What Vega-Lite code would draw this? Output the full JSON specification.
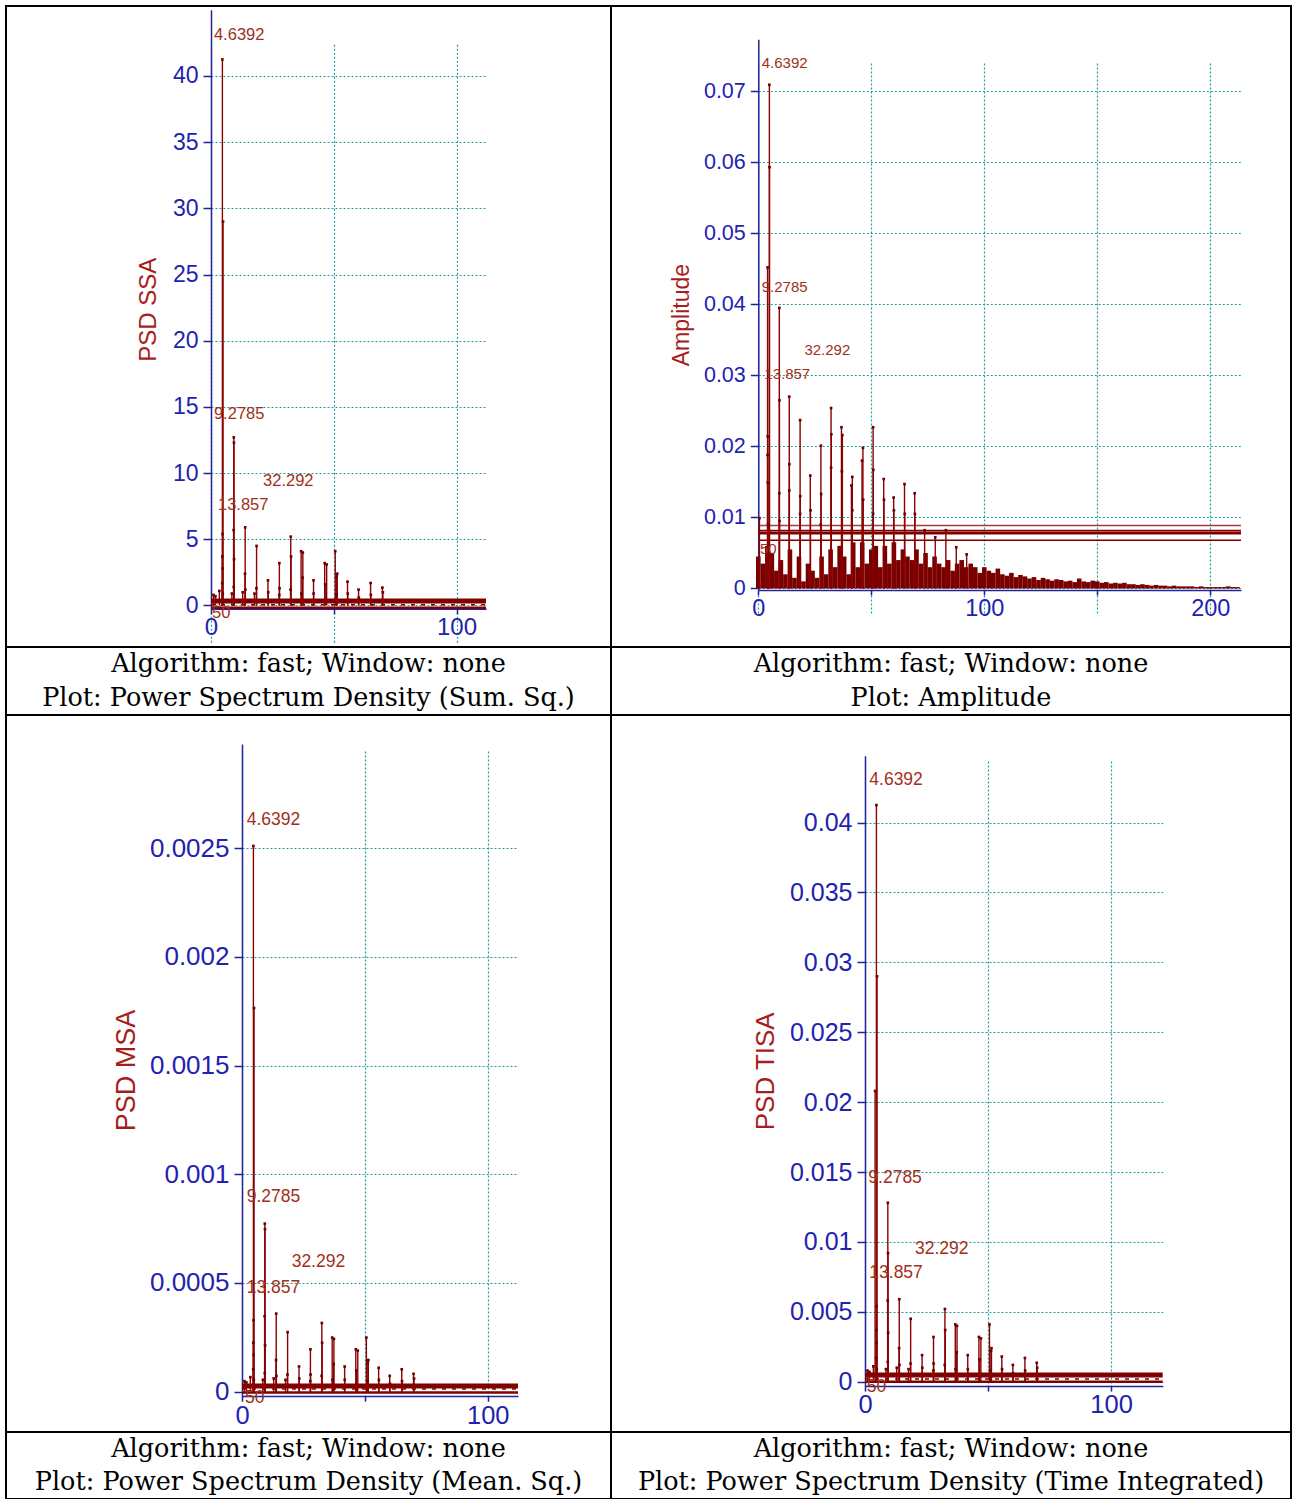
{
"$schema": "https://vega.github.io/schema/vega-lite/v6.json",
"background": "white",
"padding": {"left": 5, "top": 5, "right": 0, "bottom": 0},
"spacing": 0,
"bounds": "flush",
"align": "each",
"columns": 2,
"config": {
  "view": {"stroke": "black", "strokeWidth": 2},
  "axis": {"labelFont": "Liberation Sans", "titleFont": "Liberation Sans", "labelFlush": false, "labelOverlap": false,
    "domainColor": "#22229a", "domainWidth": 1.5, "tickColor": "#22229a", "tickWidth": 1.5, "labelColor": "#2222b0",
    "grid": true, "gridColor": "#1a9e9e", "gridDash": [2, 2], "gridWidth": 1.2, "gridOpacity": 1,
    "titleColor": "#a81c1c", "titleFontWeight": "normal"},
  "text": {"font": "Liberation Sans"}
},
"datasets": {
  "A": [
    {"x":4.64,"y":41.25},{"x":4.9,"y":29.0},{"x":4.7,"y":5.4},{"x":4.6,"y":3.7},{"x":4.75,"y":2.8},{"x":4.55,"y":1.7},{"x":4.8,"y":0.9},
    {"x":9.28,"y":12.7},{"x":9.35,"y":12.3},{"x":9.2,"y":5.7},{"x":9.4,"y":3.5},{"x":9.25,"y":1.4},
    {"x":13.92,"y":5.9},{"x":13.85,"y":2.4},{"x":14.0,"y":1.2},
    {"x":18.56,"y":4.5},{"x":18.5,"y":1.3},
    {"x":23.2,"y":1.9},{"x":23.3,"y":1.0},
    {"x":27.84,"y":3.2},{"x":27.9,"y":1.3},{"x":27.8,"y":0.8},
    {"x":32.48,"y":5.2},{"x":32.6,"y":3.7},{"x":32.4,"y":1.2},
    {"x":36.7,"y":4.1},{"x":37.4,"y":4.0},{"x":37.3,"y":2.1},{"x":36.8,"y":0.9},
    {"x":41.76,"y":1.9},{"x":41.8,"y":0.9},
    {"x":46.3,"y":3.2},{"x":47.1,"y":3.1},{"x":46.5,"y":1.6},
    {"x":50.6,"y":4.1},{"x":51.4,"y":2.4},{"x":51.2,"y":2.2},{"x":51.0,"y":0.8},
    {"x":55.6,"y":1.8},{"x":55.7,"y":0.9},
    {"x":60.1,"y":1.2},{"x":60.2,"y":0.6},
    {"x":65.0,"y":1.7},{"x":65.1,"y":0.8},
    {"x":69.8,"y":1.35},{"x":70.0,"y":1.0},
    {"x":1.0,"y":0.8},{"x":1.8,"y":0.7},{"x":3.4,"y":1.1},{"x":8.5,"y":0.9},{"x":12.9,"y":1.0},{"x":17.7,"y":0.9}
  ],
  "C": [
    {"x":4.64,"y":0.00251},{"x":4.9,"y":0.001765},{"x":4.7,"y":0.000329},{"x":4.6,"y":0.000225},{"x":4.75,"y":0.00017},{"x":4.55,"y":0.000103},{"x":4.8,"y":0.0000548},
    {"x":9.28,"y":0.000773},{"x":9.35,"y":0.000748},{"x":9.2,"y":0.000347},{"x":9.4,"y":0.000213},{"x":9.25,"y":0.0000852},
    {"x":13.92,"y":0.000359},{"x":13.85,"y":0.000146},{"x":14.0,"y":0.000073},
    {"x":18.56,"y":0.000274},{"x":18.5,"y":0.0000791},
    {"x":23.2,"y":0.000116},{"x":23.3,"y":0.0000609},
    {"x":27.84,"y":0.000195},{"x":27.9,"y":0.0000791},{"x":27.8,"y":0.0000487},
    {"x":32.48,"y":0.000316},{"x":32.6,"y":0.000225},{"x":32.4,"y":0.000073},
    {"x":36.7,"y":0.000249},{"x":37.4,"y":0.000243},{"x":37.3,"y":0.000128},{"x":36.8,"y":0.0000548},
    {"x":41.76,"y":0.000116},{"x":41.8,"y":0.0000548},
    {"x":46.3,"y":0.000195},{"x":47.1,"y":0.000189},{"x":46.5,"y":0.0000974},
    {"x":50.6,"y":0.000249},{"x":51.4,"y":0.000146},{"x":51.2,"y":0.000134},{"x":51.0,"y":0.0000487},
    {"x":55.6,"y":0.00011},{"x":55.7,"y":0.0000548},
    {"x":60.1,"y":0.000073},{"x":60.2,"y":0.0000365},
    {"x":65.0,"y":0.000103},{"x":65.1,"y":0.0000487},
    {"x":69.8,"y":0.0000821},{"x":70.0,"y":0.0000609},
    {"x":1.0,"y":0.0000487},{"x":1.8,"y":0.0000426},{"x":3.4,"y":0.0000669},{"x":8.5,"y":0.0000548},{"x":12.9,"y":0.0000609},{"x":17.7,"y":0.0000548}
  ],
  "D": [
    {"x":4.64,"y":0.04125},{"x":4.9,"y":0.029},{"x":4.1,"y":0.0208},{"x":4.7,"y":0.0054},{"x":4.6,"y":0.0037},{"x":4.75,"y":0.0028},{"x":4.55,"y":0.0017},{"x":4.8,"y":0.0009},
    {"x":9.28,"y":0.0128},{"x":9.35,"y":0.0092},{"x":9.2,"y":0.0058},{"x":9.4,"y":0.0035},{"x":9.25,"y":0.0014},
    {"x":13.92,"y":0.0059},{"x":13.85,"y":0.0024},{"x":14.0,"y":0.0012},
    {"x":18.56,"y":0.0045},{"x":18.5,"y":0.0013},
    {"x":23.2,"y":0.0019},{"x":23.3,"y":0.001},
    {"x":27.84,"y":0.0032},{"x":27.9,"y":0.0013},{"x":27.8,"y":0.0008},
    {"x":32.48,"y":0.0052},{"x":32.6,"y":0.0037},{"x":32.4,"y":0.0012},
    {"x":36.7,"y":0.0041},{"x":37.4,"y":0.004},{"x":37.3,"y":0.0021},{"x":36.8,"y":0.0009},
    {"x":41.76,"y":0.0019},{"x":41.8,"y":0.0009},
    {"x":46.3,"y":0.0032},{"x":47.1,"y":0.0031},{"x":46.5,"y":0.0016},
    {"x":50.6,"y":0.0041},{"x":51.4,"y":0.0024},{"x":51.2,"y":0.0022},{"x":51.0,"y":0.0008},
    {"x":55.6,"y":0.0018},{"x":55.7,"y":0.0009},
    {"x":60.1,"y":0.0012},{"x":60.2,"y":0.0006},
    {"x":65.0,"y":0.0017},{"x":65.1,"y":0.0008},
    {"x":69.8,"y":0.00135},{"x":70.0,"y":0.001},
    {"x":1.0,"y":0.0008},{"x":1.8,"y":0.0007},{"x":3.4,"y":0.0011},{"x":8.5,"y":0.0009},{"x":12.9,"y":0.001},{"x":17.7,"y":0.0009}
  ],
  "B": [
    {"x":4.9,"y":0.0709},{"x":4.95,"y":0.0593},
    {"x":4.1,"y":0.0452},{"x":4.15,"y":0.0214},{"x":4.1,"y":0.0188},{"x":4.2,"y":0.0149},{"x":4.3,"y":0.009},
    {"x":9.3,"y":0.0395},{"x":9.35,"y":0.0265},{"x":9.3,"y":0.0134},{"x":9.4,"y":0.0095},
    {"x":13.7,"y":0.027},{"x":13.75,"y":0.0175},{"x":13.7,"y":0.0138},
    {"x":18.5,"y":0.0237},{"x":18.55,"y":0.013},{"x":18.5,"y":0.0105},
    {"x":23.0,"y":0.0159},{"x":23.1,"y":0.011},
    {"x":27.7,"y":0.0201},{"x":27.8,"y":0.0133},{"x":27.6,"y":0.009},
    {"x":32.2,"y":0.0254},{"x":32.3,"y":0.0217},{"x":32.2,"y":0.017},
    {"x":36.8,"y":0.0227},{"x":37.2,"y":0.0216},{"x":37.0,"y":0.0165},
    {"x":41.6,"y":0.0157},{"x":41.2,"y":0.0145},{"x":41.6,"y":0.011},
    {"x":46.3,"y":0.0198},{"x":45.9,"y":0.018},{"x":46.4,"y":0.0125},
    {"x":50.8,"y":0.0227},{"x":50.9,"y":0.0167},{"x":50.8,"y":0.0105},
    {"x":55.5,"y":0.0154},{"x":55.6,"y":0.0125},
    {"x":59.9,"y":0.0128},{"x":60.0,"y":0.011},
    {"x":64.7,"y":0.0147},{"x":64.8,"y":0.0105},
    {"x":69.2,"y":0.0134},{"x":69.3,"y":0.0105},
    {"x":73.6,"y":0.0082},{"x":78.3,"y":0.0072},{"x":83.0,"y":0.0082},{"x":87.6,"y":0.0058},{"x":92.2,"y":0.0048},
    {"x":0.5,"y":0.0099}
  ],
  "Bnoise": [
    {"x":0,"y":0.0045},{"x":2,"y":0.0035},{"x":4,"y":0.006},{"x":6,"y":0.005},{"x":8,"y":0.0025},{"x":10,"y":0.004},{"x":12,"y":0.002},{"x":14,"y":0.0055},{"x":16,"y":0.0015},{"x":18,"y":0.0045},
    {"x":20,"y":0.001},{"x":22,"y":0.0035},{"x":24,"y":0.0025},{"x":26,"y":0.0015},{"x":28,"y":0.0045},{"x":30,"y":0.002},{"x":32,"y":0.0055},{"x":34,"y":0.003},{"x":36,"y":0.006},{"x":38,"y":0.0045},
    {"x":40,"y":0.002},{"x":42,"y":0.0065},{"x":44,"y":0.003},{"x":46,"y":0.0065},{"x":48,"y":0.0035},{"x":50,"y":0.0055},{"x":52,"y":0.006},{"x":54,"y":0.003},{"x":56,"y":0.006},{"x":58,"y":0.0035},
    {"x":60,"y":0.0065},{"x":62,"y":0.004},{"x":64,"y":0.0055},{"x":66,"y":0.0045},{"x":68,"y":0.004},{"x":70,"y":0.0055},{"x":72,"y":0.0035},{"x":74,"y":0.005},{"x":76,"y":0.003},{"x":78,"y":0.0045},
    {"x":80,"y":0.0035},{"x":82,"y":0.003},{"x":84,"y":0.004},{"x":86,"y":0.0025},{"x":88,"y":0.0035},{"x":90,"y":0.004},{"x":92,"y":0.003},{"x":94,"y":0.0035},{"x":96,"y":0.003},{"x":98,"y":0.0022},
    {"x":100,"y":0.003},{"x":102,"y":0.0025},{"x":104,"y":0.0022},{"x":106,"y":0.0028},{"x":108,"y":0.002},{"x":110,"y":0.0018},{"x":112,"y":0.0022},{"x":114,"y":0.0016},{"x":116,"y":0.0019},{"x":118,"y":0.0017},
    {"x":120,"y":0.0014},{"x":122,"y":0.0016},{"x":124,"y":0.0012},{"x":126,"y":0.0015},{"x":128,"y":0.0013},{"x":130,"y":0.0011},{"x":132,"y":0.0013},{"x":134,"y":0.0012},{"x":136,"y":0.001},{"x":138,"y":0.0011},
    {"x":140,"y":0.0009},{"x":142,"y":0.0014},{"x":144,"y":0.001},{"x":146,"y":0.0009},{"x":148,"y":0.0011},{"x":150,"y":0.001},{"x":152,"y":0.0008},{"x":154,"y":0.0009},{"x":156,"y":0.0007},{"x":158,"y":0.0008},
    {"x":160,"y":0.0007},{"x":162,"y":0.0008},{"x":164,"y":0.0006},{"x":166,"y":0.0006},{"x":168,"y":0.0005},{"x":170,"y":0.0006},{"x":172,"y":0.0005},{"x":174,"y":0.0004},{"x":176,"y":0.0005},{"x":178,"y":0.0004},
    {"x":180,"y":0.0004},{"x":182,"y":0.0003},{"x":184,"y":0.0004},{"x":186,"y":0.0003},{"x":188,"y":0.0003},{"x":190,"y":0.0003},{"x":192,"y":0.0003},{"x":194,"y":0.0002},{"x":196,"y":0.0003},{"x":198,"y":0.0002},
    {"x":200,"y":0.0002},{"x":202,"y":0.0002},{"x":204,"y":0.0002},{"x":206,"y":0.0002},{"x":208,"y":0.0003},{"x":210,"y":0.0002},{"x":212,"y":0.0002}
  ],
  "labA": [{"x":1.2,"y":43.1,"label":"4.6392"},{"x":1.2,"y":14.5,"label":"9.2785"},{"x":2.85,"y":7.6,"label":"13.857"},{"x":21.2,"y":9.4,"label":"32.292"},{"x":0.4,"y":-0.6,"label":"50"}],
  "labB": [{"x":1.5,"y":0.074,"label":"4.6392"},{"x":1.5,"y":0.0425,"label":"9.2785"},{"x":20.4,"y":0.0335,"label":"32.292"},{"x":2.65,"y":0.0302,"label":"13.857"},{"x":0.75,"y":0.0055,"label":"50"}],
  "labC": [{"x":1.9,"y":0.00263,"label":"4.6392"},{"x":1.9,"y":0.000897,"label":"9.2785"},{"x":20.2,"y":0.000598,"label":"32.292"},{"x":1.9,"y":0.000478,"label":"13.857"},{"x":1.2,"y":-0.00003,"label":"50"}],
  "labD": [{"x":1.75,"y":0.04304,"label":"4.6392"},{"x":1.35,"y":0.01459,"label":"9.2785"},{"x":20.3,"y":0.00947,"label":"32.292"},{"x":1.75,"y":0.00775,"label":"13.857"},{"x":0.7,"y":-0.0004,"label":"50"}]
},
"concat": [
  {"width": 605, "height": 641,
   "encoding": {
     "x": {"field":"x","type":"quantitative","scale":{"domain":[0,112],"range":[205,480],"nice":false,"zero":false},
       "axis":{"values":[0,50,100],"labelExpr":"datum.value == 50 ? '' : datum.label","offset":-38.2,"tickSize":5,"labelFontSize":24,"labelPadding":2,"title":null}},
     "y": {"field":"y","type":"quantitative","scale":{"domain":[-0.25,45],"range":[602.8,3.8],"nice":false,"zero":false},
       "axis":{"values":[0,5,10,15,20,25,30,35,40],"offset":-205,"tickSize":8,"labelFontSize":23,"labelPadding":5,"title":"PSD SSA","titleFontSize":24,"titlePadding":12}}
   },
   "layer": [
     {"data":{"values":[{"x":0,"y":0.34}]},"mark":{"type":"rule","color":"#800000","strokeWidth":5},"encoding":{"x2":{"datum":112}}},
     {"data":{"values":[{"x":0,"y":-0.17}]},"mark":{"type":"rule","color":"#800000","strokeWidth":2.5},"encoding":{"x2":{"datum":112}}},
     {"data":{"values":[{"x":0,"y":0.05}]},"mark":{"type":"rule","color":"#800000","strokeWidth":1.5,"strokeDash":[4,6]},"encoding":{"x2":{"datum":112}}},
     {"data":{"name":"A"},"mark":{"type":"rule","color":"#8b0000","strokeWidth":1.4},"encoding":{"y2":{"datum":0}}},
     {"data":{"name":"A"},"mark":{"type":"square","color":"#6b0000","size":7,"opacity":1}},
     {"data":{"name":"labA"},"mark":{"type":"text","align":"left","baseline":"middle","fontSize":16.5,"color":"#a0301c"},"encoding":{"text":{"field":"label"}}}
   ]},
  {"width": 680, "height": 641,
   "encoding": {
     "x": {"field":"x","type":"quantitative","scale":{"domain":[0,213.6],"range":[147.3,630],"nice":false,"zero":false},
       "axis":{"values":[0,50,100,150,200],"labelExpr":"datum.value == 50 || datum.value == 150 ? '' : datum.label","offset":-57.1,"tickSize":5,"labelFontSize":23.5,"labelPadding":2,"title":null}},
     "y": {"field":"y","type":"quantitative","scale":{"domain":[-0.0002,0.0773],"range":[583.9,33.3],"nice":false,"zero":false},
       "axis":{"values":[0,0.01,0.02,0.03,0.04,0.05,0.06,0.07],"format":".2~f","offset":-147.3,"tickSize":8,"labelFontSize":21.5,"labelPadding":5,"title":"Amplitude","titleFontSize":23,"titlePadding":10}}
   },
   "layer": [
     {"data":{"name":"Bnoise"},"mark":{"type":"rule","color":"#7a0000","strokeWidth":4.6},"encoding":{"y2":{"datum":0}}},
     {"data":{"values":[{"x":0,"y":0.00885}]},"mark":{"type":"rule","color":"#a04040","strokeWidth":1.5},"encoding":{"x2":{"datum":213.6}}},
     {"data":{"values":[{"x":0,"y":0.00815},{"x":0,"y":0.0068}]},"mark":{"type":"rule","color":"#800000","strokeWidth":1.5},"encoding":{"x2":{"datum":213.6}}},
     {"data":{"values":[{"x":0,"y":0.0078}]},"mark":{"type":"rule","color":"#800000","strokeWidth":3},"encoding":{"x2":{"datum":213.6}}},
     {"data":{"name":"B"},"mark":{"type":"rule","color":"#8b0000","strokeWidth":1.4},"encoding":{"y2":{"datum":0}}},
     {"data":{"name":"B"},"mark":{"type":"square","color":"#6b0000","size":7,"opacity":1}},
     {"data":{"name":"labB"},"mark":{"type":"text","align":"left","baseline":"middle","fontSize":15,"color":"#a0301c"},"encoding":{"text":{"field":"label"}}}
   ]},
  {"width": 605, "height": 68, "data": {"values": [{"line":1,"text":"Algorithm: fast; Window: none"},{"line":2,"text":"Plot: Power Spectrum Density (Sum. Sq.)"}]},
   "mark": {"type":"text","font":"DejaVu Serif","fontSize":25.5,"color":"black","baseline":"middle"},
   "encoding": {"y":{"field":"line","type":"ordinal","scale":{"type":"point","padding":0.5},"axis":null},"text":{"field":"text"}}},
  {"width": 680, "height": 68, "data": {"values": [{"line":1,"text":"Algorithm: fast; Window: none"},{"line":2,"text":"Plot: Amplitude"}]},
   "mark": {"type":"text","font":"DejaVu Serif","fontSize":25.5,"color":"black","baseline":"middle"},
   "encoding": {"y":{"field":"line","type":"ordinal","scale":{"type":"point","padding":0.5},"axis":null},"text":{"field":"text"}}},
  {"width": 605, "height": 717,
   "encoding": {
     "x": {"field":"x","type":"quantitative","scale":{"domain":[0,112.3],"range":[236,512],"nice":false,"zero":false},
       "axis":{"values":[0,50,100],"labelExpr":"datum.value == 50 ? '' : datum.label","offset":-35.95,"tickSize":5,"labelFontSize":25.5,"labelPadding":2,"title":null}},
     "y": {"field":"y","type":"quantitative","scale":{"domain":[-0.00002,0.002979],"range":[681.05,29],"nice":false,"zero":false},
       "axis":{"values":[0,0.0005,0.001,0.0015,0.002,0.0025],"format":".4~f","offset":-236,"tickSize":8,"labelFontSize":26,"labelPadding":5,"title":"PSD MSA","titleFontSize":27,"titlePadding":9}}
   },
   "layer": [
     {"data":{"values":[{"x":0,"y":0.0000262}]},"mark":{"type":"rule","color":"#800000","strokeWidth":5},"encoding":{"x2":{"datum":112.3}}},
     {"data":{"values":[{"x":0,"y":-0.0000037}]},"mark":{"type":"rule","color":"#800000","strokeWidth":2.5},"encoding":{"x2":{"datum":112.3}}},
     {"data":{"values":[{"x":0,"y":0.0000124}]},"mark":{"type":"rule","color":"#800000","strokeWidth":1.5,"strokeDash":[4,6]},"encoding":{"x2":{"datum":112.3}}},
     {"data":{"name":"C"},"mark":{"type":"rule","color":"#8b0000","strokeWidth":1.4},"encoding":{"y2":{"datum":0}}},
     {"data":{"name":"C"},"mark":{"type":"square","color":"#6b0000","size":7,"opacity":1}},
     {"data":{"name":"labC"},"mark":{"type":"text","align":"left","baseline":"middle","fontSize":17.5,"color":"#a0301c"},"encoding":{"text":{"field":"label"}}}
   ]},
  {"width": 680, "height": 717,
   "encoding": {
     "x": {"field":"x","type":"quantitative","scale":{"domain":[0,121],"range":[254,551.7],"nice":false,"zero":false},
       "axis":{"values":[0,50,100],"labelExpr":"datum.value == 50 ? '' : datum.label","offset":-46.1,"tickSize":5,"labelFontSize":25.5,"labelPadding":2,"title":null}},
     "y": {"field":"y","type":"quantitative","scale":{"domain":[-0.0003,0.04478],"range":[670.9,40.7],"nice":false,"zero":false},
       "axis":{"values":[0,0.005,0.01,0.015,0.02,0.025,0.03,0.035,0.04],"format":".3~f","offset":-254,"tickSize":8,"labelFontSize":25,"labelPadding":5,"title":"PSD TISA","titleFontSize":26,"titlePadding":11}}
   },
   "layer": [
     {"data":{"values":[{"x":0,"y":0.00048}]},"mark":{"type":"rule","color":"#800000","strokeWidth":5},"encoding":{"x2":{"datum":121}}},
     {"data":{"values":[{"x":0,"y":0.0}]},"mark":{"type":"rule","color":"#800000","strokeWidth":2.5},"encoding":{"x2":{"datum":121}}},
     {"data":{"values":[{"x":0,"y":0.00019}]},"mark":{"type":"rule","color":"#800000","strokeWidth":1.5,"strokeDash":[4,6]},"encoding":{"x2":{"datum":121}}},
     {"data":{"name":"D"},"mark":{"type":"rule","color":"#8b0000","strokeWidth":1.4},"encoding":{"y2":{"datum":0}}},
     {"data":{"name":"D"},"mark":{"type":"square","color":"#6b0000","size":7,"opacity":1}},
     {"data":{"name":"labD"},"mark":{"type":"text","align":"left","baseline":"middle","fontSize":17.5,"color":"#a0301c"},"encoding":{"text":{"field":"label"}}}
   ]},
  {"width": 605, "height": 67, "data": {"values": [{"line":1,"text":"Algorithm: fast; Window: none"},{"line":2,"text":"Plot: Power Spectrum Density (Mean. Sq.)"}]},
   "mark": {"type":"text","font":"DejaVu Serif","fontSize":25.5,"color":"black","baseline":"middle"},
   "encoding": {"y":{"field":"line","type":"ordinal","scale":{"type":"point","padding":0.5},"axis":null},"text":{"field":"text"}}},
  {"width": 680, "height": 67, "data": {"values": [{"line":1,"text":"Algorithm: fast; Window: none"},{"line":2,"text":"Plot: Power Spectrum Density (Time Integrated)"}]},
   "mark": {"type":"text","font":"DejaVu Serif","fontSize":25.5,"color":"black","baseline":"middle"},
   "encoding": {"y":{"field":"line","type":"ordinal","scale":{"type":"point","padding":0.5},"axis":null},"text":{"field":"text"}}}
]
}
